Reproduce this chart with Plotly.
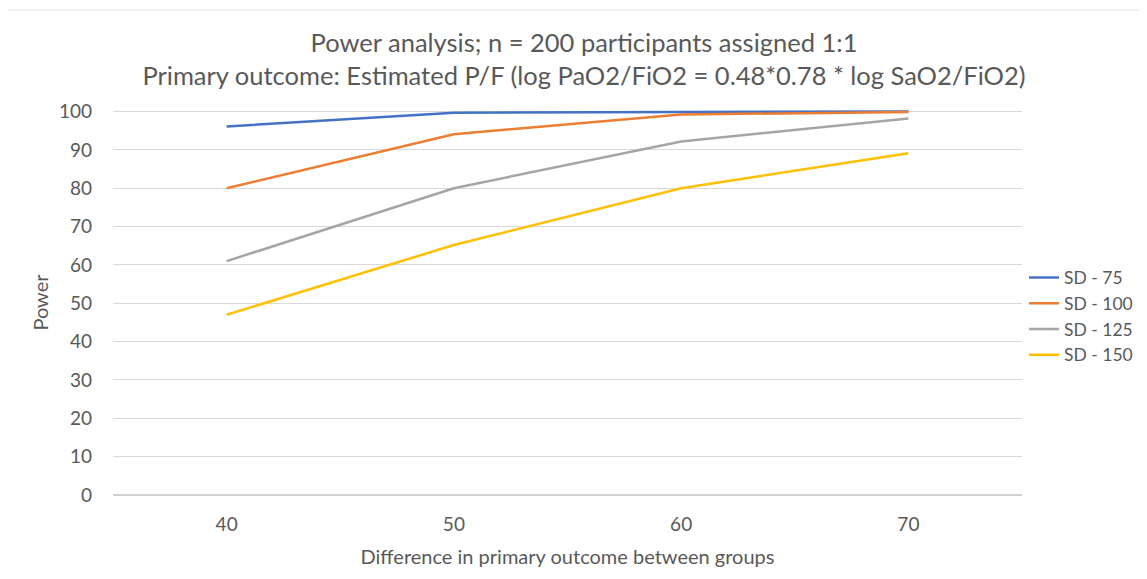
import plotly.graph_objects as go

categories = ["40", "50", "60", "70"]
sd75 = [96.1, 99.7, 99.9, 100.0]
sd100 = [80.0, 94.1, 99.2, 99.9]
sd125 = [61.0, 80.0, 92.2, 98.2]
sd150 = [47.0, 65.2, 80.0, 89.1]
series_names = ["SD - 75", "SD - 100", "SD - 125", "SD - 150"]
colors = ["#4472C4", "#ED7D31", "#A5A5A5", "#FFC000"]
y_ticks = list(range(0, 101, 10))

# page body has an 8px margin, so figure coords = screen coords - 8
# (figure kept small enough that the page needs no scrollbar)
W, H = 1139, 563
L, T = 105, 102
plot_right, plot_bottom = 1014, 487
R, B = W - plot_right, H - plot_bottom
pw, ph = W - L - R, H - T - B

fig = go.Figure()
for name, vals, c in zip(series_names, [sd75, sd100, sd125, sd150], colors):
    fig.add_trace(go.Scatter(x=categories, y=vals, name=name, mode="lines",
                             line=dict(color=c, width=2.5)))

font_family = "Lato, 'Open Sans', sans-serif"
fig.update_layout(
    width=W, height=H,
    margin=dict(l=L, r=R, t=T, b=B, autoexpand=False),
    paper_bgcolor="white", plot_bgcolor="white",
    font=dict(family=font_family, color="#595959", size=19),
    title=dict(text="Power analysis; n = 200 participants assigned 1:1<br>Primary outcome: Estimated P/F (log PaO2/FiO2 = 0.48*0.78 * log SaO2/FiO2)",
               x=576 / W, xanchor="center", y=1 - 44 / H, yanchor="top",
               font=dict(size=25.5, color="#595959", family=font_family)),
    xaxis=dict(type="category", range=[-0.5, 3.5], showgrid=False, showline=False,
               ticks="", ticklabelstandoff=16, tickfont=dict(size=19),
               title=dict(text="Difference in primary outcome between groups", standoff=15,
                          font=dict(size=20, color="#595959"))),
    yaxis=dict(range=[0, 100.4], tickvals=y_ticks, showgrid=True, gridcolor="#D9D9D9",
               gridwidth=1, zeroline=True, zerolinecolor="#D0D0D0", zerolinewidth=1.5,
               showline=False, ticks="", ticklabelstandoff=20, tickfont=dict(size=19),
               title=dict(text="Power", standoff=4, font=dict(size=20, color="#595959"))),
    legend=dict(x=(1016 - L) / pw, xanchor="left",
                y=(plot_bottom - 308) / ph, yanchor="middle",
                font=dict(size=17.5, color="#595959"), bgcolor="rgba(0,0,0,0)",
                tracegroupgap=0, itemwidth=30),
    showlegend=True,
)

# faint chart frame (top edge)
fig.add_shape(type="line", xref="paper", yref="paper",
              x0=(0 - L) / pw, x1=(W - L) / pw, y0=(plot_bottom - 2) / ph, y1=(plot_bottom - 2) / ph,
              line=dict(color="#E6E6E6", width=1))

fig.write_html("out.html")
